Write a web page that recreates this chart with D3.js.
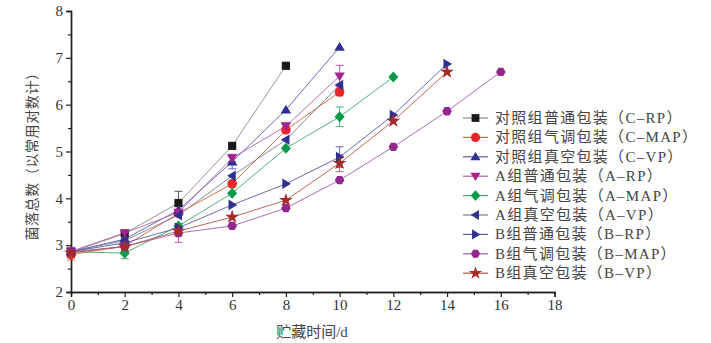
<!DOCTYPE html>
<html><head><meta charset="utf-8">
<script src="https://cdn.jsdelivr.net/npm/d3@7"></script>
<style>body{margin:0;background:#fff}svg{display:block}</style>
</head><body>
<script>
const days = [0, 2, 4, 6, 8, 10, 12, 14, 16];
const seriesNames = ["对照组普通包装（C–RP）","对照组气调包装（C–MAP）","对照组真空包装（C–VP）","A组普通包装（A–RP）","A组气调包装（A–MAP）","A组真空包装（A–VP）","B组普通包装（B–RP）","B组气调包装（B–MAP）","B组真空包装（B–VP）"];
const cRP  = [2.85, 3.25, 3.90, 5.12, 6.83];
const cMAP = [2.80, 2.98, 3.68, 4.31, 5.46, 6.27];
const cVP  = [2.86, 3.13, 3.75, 4.78, 5.89, 7.23];
const aRP  = [2.87, 3.26, 3.70, 4.86, 5.54, 6.61];
const aMAP = [2.86, 2.83, 3.41, 4.11, 5.07, 5.74, 6.59];
const aVP  = [2.86, 3.10, 3.64, 4.48, 5.25, 6.42];
const bRP  = [2.86, 3.05, 3.37, 3.86, 4.31, 4.88, 5.78, 6.87];
const bMAP = [2.86, 2.97, 3.26, 3.41, 3.79, 4.39, 5.10, 5.86, 6.70];
const bVP  = [2.84, 2.97, 3.30, 3.60, 3.96, 4.75, 5.65, 6.70];
const errs = {
  cRP:[0,0,0.25,0,0], cMAP:[0.12,0,0,0,0,0.08], cVP:[0,0,0.1,0.15,0,0],
  aRP:[0,0,0,0.08,0.08,0.23], aMAP:[0,0.12,0,0,0,0.21,0], aVP:[0,0,0,0,0,0],
  bRP:[0,0,0,0,0,0.22,0,0], bMAP:[0,0,0.2,0,0,0,0,0,0], bVP:[0,0,0,0,0,0.18,0,0]
};
const yTicks = [2,3,4,5,6,7,8];
const xTicks = [0,2,4,6,8,10,12,14,16,18];

const series = [
  {v:cRP, e:errs.cRP, sym:"square", c:"#1a1a1a", lc:"#8a8a8a"},
  {v:cMAP,e:errs.cMAP,sym:"circle", c:"#e8262a", lc:"#d9603a"},
  {v:cVP, e:errs.cVP, sym:"up",     c:"#2e3192", lc:"#5a5ea8"},
  {v:aRP, e:errs.aRP, sym:"down",   c:"#a4238f", lc:"#b060a8"},
  {v:aMAP,e:errs.aMAP,sym:"diamond",c:"#0a9a4a", lc:"#40a868"},
  {v:aVP, e:errs.aVP, sym:"left",   c:"#2e3192", lc:"#7a7a9a"},
  {v:bRP, e:errs.bRP, sym:"right",  c:"#2e3192", lc:"#5a5ea8"},
  {v:bMAP,e:errs.bMAP,sym:"hex",    c:"#92278f", lc:"#a060b0"},
  {v:bVP, e:errs.bVP, sym:"star",   c:"#a52a2a", lc:"#b05a48"}
];

const W=711,H=343;
const svg=d3.select("body").append("svg").attr("width",W).attr("height",H);
const x=d3.scaleLinear().domain([0,18]).range([71,554.5]);
const y=d3.scaleLinear().domain([2,8]).range([292,11]);
const axisCol="#222", txtCol="#333";
const numFont="'Liberation Serif','DejaVu Serif',serif";
const cjkFont="'Liberation Serif','Noto Sans CJK SC',sans-serif";

function symPath(s, r){
  switch(s){
    case "square": return `M${-r*0.85},${-r*0.85}h${1.7*r}v${1.7*r}h${-1.7*r}Z`;
    case "circle": return d3.symbol(d3.symbolCircle, Math.PI*r*r)();
    case "up": return `M0,${-r*1.05}L${r*1.1},${r*0.75}L${-r*1.1},${r*0.75}Z`;
    case "down": return `M0,${r*1.05}L${r*1.1},${-r*0.75}L${-r*1.1},${-r*0.75}Z`;
    case "left": return `M${-r*1.05},0L${r*0.75},${-r*1.1}L${r*0.75},${r*1.1}Z`;
    case "right": return `M${r*1.05},0L${-r*0.75},${-r*1.1}L${-r*0.75},${r*1.1}Z`;
    case "diamond": return `M0,${-r*1.15}L${r*1.05},0L0,${r*1.15}L${-r*1.05},0Z`;
    case "hex": { const p=[]; for(let i=0;i<6;i++){const a=Math.PI/3*i; p.push([r*Math.cos(a),r*Math.sin(a)]);} return "M"+p.map(q=>q.join(",")).join("L")+"Z"; }
    case "star": return d3.symbol(d3.symbolStar, r*r*2.6)();
  }
}

// axes
const yAxis=d3.axisLeft(y).tickValues(yTicks).tickFormat(d3.format("d")).tickSize(5).tickPadding(3);
const yMinor=d3.axisLeft(y).tickValues(d3.range(2.5,8,1)).tickFormat("").tickSize(3);
const xAxis=d3.axisBottom(x).tickValues(xTicks).tickFormat(d3.format("d")).tickSize(5).tickPadding(2);
const xMinor=d3.axisBottom(x).tickValues(d3.range(1,18,2)).tickFormat("").tickSize(3);
function styleAxis(g){
  g.select(".domain").attr("stroke",axisCol).attr("stroke-width",1.4);
  g.selectAll(".tick line").attr("stroke",axisCol).attr("stroke-width",1.2);
  g.selectAll(".tick text").attr("fill",txtCol).style("font-family",numFont).style("font-size","15px");
}
svg.append("g").attr("transform","translate(71,0)").call(yMinor).call(styleAxis);
svg.append("g").attr("transform","translate(71,0)").call(yAxis).call(styleAxis);
svg.append("g").attr("transform","translate(0,292)").call(xMinor).call(styleAxis);
svg.append("g").attr("transform","translate(0,292)").call(xAxis).call(styleAxis);

svg.append("text").attr("transform","translate(37,153) rotate(-90)").attr("text-anchor","middle")
  .attr("fill","#444").style("font-family",cjkFont).style("font-size","14px").style("letter-spacing","0.6px").text("菌落总数（以常用对数计）");
svg.append("text").attr("x",312).attr("y",337).attr("text-anchor","middle")
  .attr("fill","#444").style("font-family",cjkFont).style("font-size","15px").text("贮藏时间/d");

// lines
const line=d3.line().x((d,i)=>x(days[i])).y(d=>y(d));
series.forEach(s=>{
  svg.append("path").attr("d",line(s.v)).attr("fill","none").attr("stroke",s.lc).attr("stroke-width",0.9);
});
// error bars
series.forEach(s=>{
  s.v.forEach((v,i)=>{
    const e=s.e[i]; if(!e) return;
    const g=svg.append("g").attr("stroke",s.c).attr("stroke-width",0.9).attr("opacity",0.8);
    const cx=x(days[i]);
    g.append("line").attr("x1",cx).attr("x2",cx).attr("y1",y(v-e)).attr("y2",y(v+e));
    g.append("line").attr("x1",cx-4).attr("x2",cx+4).attr("y1",y(v-e)).attr("y2",y(v-e));
    g.append("line").attr("x1",cx-4).attr("x2",cx+4).attr("y1",y(v+e)).attr("y2",y(v+e));
  });
});
// markers
series.forEach(s=>{
  svg.append("g").selectAll("path").data(s.v).join("path")
    .attr("transform",(d,i)=>`translate(${x(days[i])},${y(d)})`)
    .attr("d",symPath(s.sym,4.8)).attr("fill",s.c);
});

// legend
const lg=svg.append("g");
series.forEach((s,i)=>{
  const yy=118+i*19.4;
  lg.append("line").attr("x1",463).attr("x2",488).attr("y1",yy).attr("y2",yy).attr("stroke",s.lc).attr("stroke-width",1.2);
  lg.append("path").attr("transform",`translate(475.5,${yy})`).attr("d",symPath(s.sym,4.6)).attr("fill",s.c);
  lg.append("text").attr("x",495).attr("y",yy+5).attr("fill","#444")
    .style("font-family",cjkFont).style("font-size","15px").style("letter-spacing","1.3px").text(seriesNames[i]);
});
</script>
</body></html>
